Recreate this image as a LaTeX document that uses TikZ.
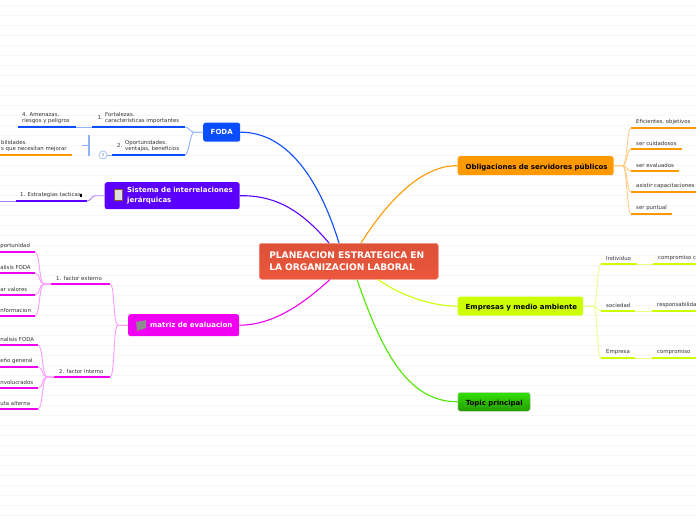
\documentclass[tikz,border=0pt]{standalone}
\usepackage{fontspec}
\setmainfont{DejaVu Sans}
\usetikzlibrary{calc}
\definecolor{cblue}{HTML}{0A4DFF}
\definecolor{lblue}{HTML}{8FB2FF}
\definecolor{cviolet}{HTML}{5B00FF}
\definecolor{lviolet}{HTML}{AE85FF}
\definecolor{cmag}{HTML}{F000F0}
\definecolor{lmag}{HTML}{FF99FF}
\definecolor{corange}{HTML}{FF9900}
\definecolor{lorange}{HTML}{FFCC88}
\definecolor{clime}{HTML}{CCFF00}
\definecolor{llime}{HTML}{E8FF88}
\definecolor{cgreen}{HTML}{33E000}
\definecolor{cred}{HTML}{EC573C}
\tikzset{
  gridline/.style={draw=black!3.5,line width=0.6pt},
  maintopic/.style={rounded corners=2.5pt,anchor=north west,inner sep=0pt,font=\fontsize{7}{9.5}\selectfont\bfseries,align=left},
  lowtext/.style={text height=7pt,text depth=0pt},
  subtext/.style={inner sep=0pt,anchor=base west,text=black!80,font=\fontsize{5.4}{6}\selectfont,align=left},
  underline/.style={line width=1.8pt},
  link/.style={line width=0.9pt},
  mainlink/.style={line width=1.1pt},
}
% \subt{name}{xL}{xR}{y}{colour}{text x}{text}
\newcommand\subt[7]{%
  \coordinate (#1-l) at (#2,#4);
  \coordinate (#1-r) at (#3,#4);
  \draw[underline,#5] (#1-l) -- (#1-r);
  \node[subtext,anchor=south west] (#1) at (#6,#4-3.2) {#7};
}
% \curv{colour}{from}{to}{stub}{control}
\newcommand\curv[5]{\draw[link,#1] (#2) -- ++(#4,0) .. controls +(#5,0) and +(-#5,0) .. (#3);}
\begin{document}
\begin{tikzpicture}[x=1pt,y=-1pt]
\useasboundingbox (0,0) rectangle (696,520);
\clip (0,0) rectangle (696,520);
\fill[white] (0,0) rectangle (696,520);
\foreach \k in {0,...,51} {\draw[gridline] (0,5+10*\k) -- (696,5+10*\k);}

% main nodes
\node[maintopic,text width=179pt,minimum height=36pt,top color=cred!93!black,bottom color=cred,draw=cred!60!white,line width=.5pt,text=white,font=\fontsize{9.1}{11.8}\selectfont\bfseries] (center) at (259,243) {\hspace*{10pt}PLANEACION ESTRATEGICA EN\\\hspace*{10pt}LA ORGANIZACION LABORAL};
\node[maintopic,text width=37pt,minimum height=19pt,fill=cblue,text=white,align=center] (foda) at (203,122.5) {FODA};
\node[maintopic,text width=135pt,minimum height=27pt,fill=cviolet,text=white] (sistema) at (104.5,182) {\hspace*{22.5pt}Sistema de interrelaciones\\\hspace*{22.5pt}jerárquicas};
\node[maintopic,text width=111pt,minimum height=22pt,fill=cmag,text=white] (matriz) at (128,314) {\hspace*{22pt}matriz de evaluacion};
\node[maintopic,lowtext,text width=156pt,minimum height=19pt,fill=corange,text=black] (oblig) at (457.5,156) {\hspace*{8pt}Obligaciones de servidores públicos};
\node[maintopic,lowtext,text width=125.5pt,minimum height=19pt,fill=clime,text=black] (emp) at (457.5,296.5) {\hspace*{8pt}Empresas y medio ambiente};
\node[maintopic,lowtext,text width=72.5pt,minimum height=19pt,top color=cgreen,bottom color=cgreen!70!black,draw=black!15,line width=.5pt,text=black] (topic) at (457.5,392) {\hspace*{8pt}Topic principal};

% icons
\draw[draw=brown!70!black,fill=black!12,line width=.8pt] (114,189.5) rectangle (122.5,200.5);
\fill[black!45] (136,322) -- (146,320) -- (146,328) -- (137,331) -- cycle;

% main links
\draw[mainlink,cblue] (foda.east) .. controls (285,132) and (318,175) .. (center.north west -| 339,243);
\draw[mainlink,cviolet] (sistema.east) .. controls (280,195) and (305,215) .. (center.north west -| 329,243);
\draw[mainlink,cmag] (matriz.east) .. controls (275,325) and (305,302) .. (center.south west -| 330,279);
\draw[mainlink,corange] (oblig.west) .. controls (420,165) and (385,205) .. (center.north west -| 361,243);
\draw[mainlink,clime] (emp.west) .. controls (430,306) and (400,295) .. (center.south west -| 378,279);
\draw[mainlink,cgreen!80!lime] (topic.west) .. controls (405,402) and (380,345) .. (center.south west -| 357,279);

% FODA
\subt{fort}{92}{185}{127}{cblue}{105}{Fortalezas.\\caracteristicas importantes}
\node[subtext] (fortn) at (97.5,119) {1.};
\subt{amen}{18}{76}{127}{cblue}{22}{4. Amenazas.\\riesgos y peligros}
\subt{opor}{112}{185}{155}{cblue}{125}{Oportunidades.\\ventajas, beneficios}
\node[subtext] (oporn) at (117,147) {2.};
\subt{debi}{0}{72}{155}{corange}{1}{bilidades.\\s que necesitan mejorar}
\curv{lblue}{foda.west}{fort-r}{-9}{-4}
\curv{lblue}{foda.west}{opor-r}{-9}{-4}
\draw[link,lblue] (amen-r) -- (fort-l);
\node[circle,draw=lblue,line width=.6pt,fill=white,inner sep=0pt,minimum size=8pt,text=lblue!70!black,font=\fontsize{4}{4}\selectfont] (circ) at (103,155) {3};
\draw[link,lblue] (circ) -- (opor-l);
\coordinate (barT) at (89,135);
\coordinate (barB) at (89,156);
\coordinate (barM) at (82,145);
\draw[lblue,line width=1.4pt] (barT) -- (barB);
\draw[lblue,line width=.9pt] (barM) -- (barM -| barT);

% Sistema
\subt{estr}{16}{87}{201}{cviolet}{20}{1. Estrategias tacticas}
\fill[black] (79.5,193.5) rectangle (82,196.5);
\curv{lviolet}{sistema.west}{estr-r}{-9}{-4}
\coordinate (estrE) at (0,201);
\draw[link,lviolet] (estrE) -- (estr-l);

% matriz
\subt{fext}{51}{110}{284}{cmag}{56}{1. factor  externo}
\subt{fint}{54}{110}{377}{cmag}{59}{2. factor interno}
\curv{lmag}{matriz.west}{fext-r}{-10}{-5}
\curv{lmag}{matriz.west}{fint-r}{-10}{-5}
\subt{a1}{0}{35}{252}{cmag}{0.2}{portunidad}
\subt{a2}{0}{35}{273}{cmag}{0.2}{alisis FODA}
\subt{a3}{0}{35}{295}{cmag}{0.2}{ar valores}
\subt{a4}{0}{35}{316}{cmag}{0.2}{nformacion}
\foreach \n in {a1,a2,a3,a4} {\curv{lmag}{fext-l}{\n-r}{-7}{-5}}
\subt{b1}{0}{38}{345}{cmag}{0.2}{nalisis FODA}
\subt{b2}{0}{38}{367}{cmag}{0.2}{eño general}
\subt{b3}{0}{38}{388}{cmag}{0.2}{nvolucrados}
\subt{b4}{0}{38}{409}{cmag}{0.2}{uta alterna}
\foreach \n in {b1,b2,b3,b4} {\curv{lmag}{fint-l}{\n-r}{-7}{-5}}

% Obligaciones
\subt{o1}{631}{696}{128}{corange}{636}{Eficientes, objetivos}
\subt{o2}{631}{682}{149}{corange}{636}{ser cuidadosos}
\subt{o3}{631}{679}{171}{corange}{636}{ser evaluados}
\subt{o4}{631}{696}{192}{corange}{636}{asistir  capacitaciones}
\subt{o5}{631}{672}{214}{corange}{636}{ser puntual}
\foreach \n in {o1,o2,o3,o4,o5} {\curv{lorange}{oblig.east}{\n-l}{9}{4}}

% Empresas
\subt{e1}{601}{637}{264}{clime}{606}{Individuo}
\subt{e2}{653}{696}{264}{clime}{658}{compromiso c}
\subt{e3}{601}{635}{311}{clime}{606}{sociedad}
\subt{e4}{652}{696}{311}{clime}{657}{responsabilida}
\subt{e5}{601}{635}{358}{clime}{606}{Empresa}
\subt{e6}{652}{696}{358}{clime}{657}{compromiso}
\foreach \n in {e1,e3,e5} {\curv{llime}{emp.east}{\n-l}{10}{4}}
\draw[link,llime] (e1-r) -- (e2-l);
\draw[link,llime] (e3-r) -- (e4-l);
\draw[link,llime] (e5-r) -- (e6-l);
\end{tikzpicture}
\end{document}
